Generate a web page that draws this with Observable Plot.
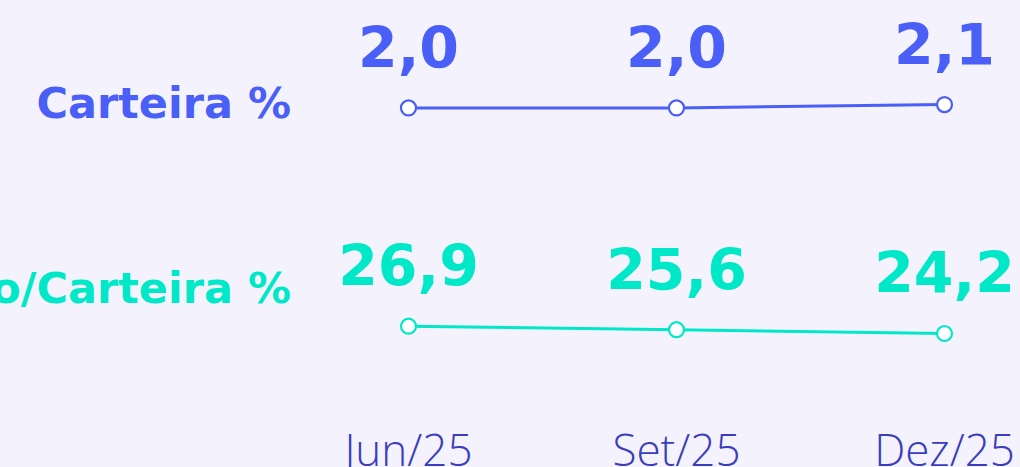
<!DOCTYPE html>
<html><head><meta charset="utf-8">
<script src="https://cdn.jsdelivr.net/npm/d3@7"></script>
<script src="https://cdn.jsdelivr.net/npm/@observablehq/plot@0.6"></script>
<style>html,body{margin:0;padding:0;background:#f4f3fd;overflow:hidden}</style>
</head><body><div id="chart"></div>
<script>
const months = ["Jun/25", "Set/25", "Dez/25"];
const seriesNames = ["Carteira %", "Provisão/Carteira %"];
const carteira = [2.0, 2.0, 2.1];
const provisao = [26.9, 25.6, 24.2];
const colors = ["#4a5ef8", "#00e8c8"];

const rows = [];
[carteira, provisao].forEach((vals, i) => {
  const mean = d3.mean(vals);
  vals.forEach((v, j) => rows.push({series: seriesNames[i], month: months[j], value: v, rel: v / mean}));
});
const labels = seriesNames.map(s => ({series: s}));

const chart = Plot.plot({
  width: 1020, height: 467,
  marginLeft: 407.5, marginRight: 76, marginTop: 0, marginBottom: 20,
  style: {background: "transparent", overflow: "visible"},
  x: {type: "point", domain: months, padding: 0, axis: null},
  y: {domain: [-0.71, 2.53], axis: null},
  fy: {domain: seriesNames, padding: 0, axis: null},
  color: {domain: seriesNames, range: colors},
  marks: [
    Plot.line(rows, {x: "month", y: "rel", fy: "series", stroke: "series", strokeWidth: 3}),
    Plot.dot(rows, {x: "month", y: "rel", fy: "series", stroke: "series", fill: "white", r: 7.5, strokeWidth: 2.2}),
    Plot.text(rows, {x: "month", y: "rel", fy: "series", fill: "series",
      text: d => d.value.toFixed(1).replace(".", ","),
      lineAnchor: "bottom", dy: -40, fontSize: 57, fontWeight: "bold", fontFamily: "DejaVu Sans"}),
    Plot.text(labels.slice(0, 1), {fy: "series", frameAnchor: "left", textAnchor: "end", dx: -117, dy: -9,
      text: "series", fill: "series", fontSize: 43, fontWeight: "bold", fontFamily: "DejaVu Sans"}),
    Plot.text(labels.slice(1), {fy: "series", frameAnchor: "left", textAnchor: "end", dx: -117, dy: -47,
      text: "series", fill: "series", fontSize: 43, fontWeight: "bold", fontFamily: "DejaVu Sans"}),
    Plot.axisX({tickSize: 0, tickPadding: 0, dy: -13, fontSize: 44, fontWeight: 300,
      fontFamily: "Open Sans", color: "#3a3dbd", label: null})
  ]
});
document.getElementById("chart").appendChild(chart);
</script>
</body></html>
